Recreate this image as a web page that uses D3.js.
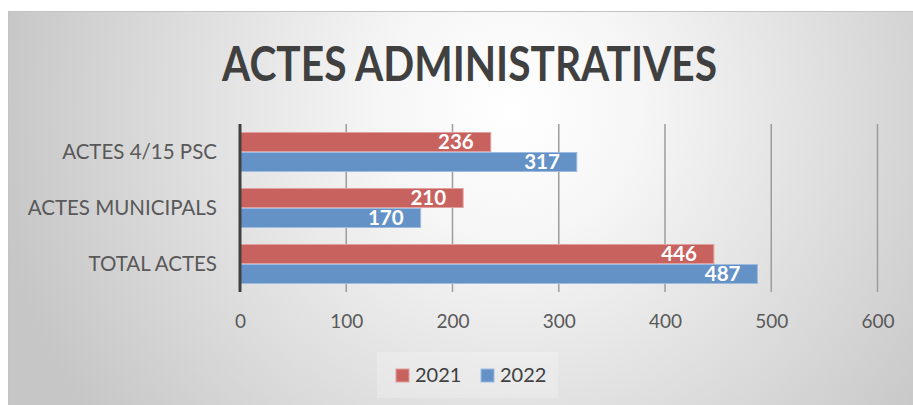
<!DOCTYPE html>
<html>
<head>
<meta charset="utf-8">
<script src="https://cdn.jsdelivr.net/npm/d3@7"></script>
<style>
  html, body { margin: 0; padding: 0; background: #ffffff; }
  svg { display: block; }
</style>
</head>
<body>
<div id="chart"></div>
<script>
const title = "ACTES ADMINISTRATIVES";
const categories = ["ACTES 4/15 PSC", "ACTES MUNICIPALS", "TOTAL ACTES"];
const seriesNames = ["2021", "2022"];
const values2021 = [236, 210, 446];
const values2022 = [317, 170, 487];
const xTicks = [0, 100, 200, 300, 400, 500, 600];
const seriesColors = ["#c8625f", "#6592c6"];
const seriesStroke = ["#e0a09e", "#9dbbe0"];

const W = 913, H = 405;
const svg = d3.select("#chart").append("svg").attr("width", W).attr("height", H);

const defs = svg.append("defs");
const grad = defs.append("radialGradient").attr("id", "bg")
  .attr("gradientUnits", "userSpaceOnUse")
  .attr("cx", 510).attr("cy", 110).attr("r", 520);
grad.append("stop").attr("offset", "0%").attr("stop-color", "#ffffff");
grad.append("stop").attr("offset", "25%").attr("stop-color", "#f6f6f6");
grad.append("stop").attr("offset", "100%").attr("stop-color", "#c6c6c6");

// chart frame
svg.append("rect").attr("x", 8.5).attr("y", 11.5).attr("width", W - 8).attr("height", H - 11)
  .attr("fill", "url(#bg)").attr("stroke", "#c4c4c4").attr("stroke-width", 1);

// title
svg.append("text").attr("x", 469.5).attr("y", 81)
  .attr("text-anchor", "middle")
  .attr("font-family", "Lato, sans-serif").attr("font-weight", 700)
  .attr("font-size", 47.5).attr("fill", "#404040")
  .attr("textLength", 495).attr("lengthAdjust", "spacingAndGlyphs")
  .text(title);

const plotTop = 124, plotBottom = 292;
const x = d3.scaleLinear().domain([0, 600]).range([240, 877.5]);
const y = d3.scaleBand().domain(categories).range([plotTop, plotBottom]).paddingInner(0.2857).paddingOuter(0.1428);
const ySub = d3.scaleBand().domain(seriesNames).range([0, y.bandwidth()]);

// gridlines
const grid = svg.append("g");
grid.selectAll("line").data(xTicks.slice(1)).join("line")
  .attr("x1", d => x(d)).attr("x2", d => x(d))
  .attr("y1", plotTop).attr("y2", plotBottom)
  .attr("stroke", "#9c9c9c").attr("stroke-width", 1.5);

// bars
const data = [];
categories.forEach((c, i) => {
  data.push({cat: c, s: "2021", v: values2021[i], k: 0});
  data.push({cat: c, s: "2022", v: values2022[i], k: 1});
});

svg.append("g").selectAll("rect").data(data).join("rect")
  .attr("x", x(0))
  .attr("y", d => y(d.cat) + ySub(d.s) + 0.5)
  .attr("width", d => x(d.v) - x(0))
  .attr("height", ySub.bandwidth() - 1)
  .attr("fill", d => seriesColors[d.k])
  .attr("stroke", d => seriesStroke[d.k]).attr("stroke-width", 1);

// data labels
svg.append("g").selectAll("text").data(data).join("text")
  .attr("x", d => x(d.v) - 17)
  .attr("y", d => y(d.cat) + ySub(d.s) + ySub.bandwidth() / 2)
  .attr("dy", "0.36em")
  .attr("text-anchor", "end")
  .attr("font-family", "Lato, sans-serif").attr("font-weight", 700)
  .attr("font-size", 20.5).attr("fill", "#ffffff")
  .text(d => d.v);

// y axis line
svg.append("line").attr("x1", x(0)).attr("x2", x(0)).attr("y1", plotTop).attr("y2", plotBottom)
  .attr("stroke", "#404040").attr("stroke-width", 3);

// category labels
svg.append("g").selectAll("text").data(categories).join("text")
  .attr("x", 217)
  .attr("y", d => y(d) + y.bandwidth() / 2)
  .attr("dy", "0.36em")
  .attr("text-anchor", "end")
  .attr("font-family", "Lato, sans-serif").attr("font-size", 20.5).attr("fill", "#595959")
  .text(d => d);

// x tick labels
const xAxis = d3.axisBottom(x).tickValues(xTicks).tickSize(0).tickPadding(0);
const gx = svg.append("g").attr("transform", `translate(0, ${plotBottom})`).call(xAxis);
gx.select(".domain").remove();
gx.selectAll("text")
  .attr("y", 36).attr("dy", 0)
  .attr("font-family", "Lato, sans-serif").attr("font-size", 19).attr("fill", "#595959");

// legend
const lg = svg.append("g");
lg.append("rect").attr("x", 377).attr("y", 352).attr("width", 181).attr("height", 46)
  .attr("fill", "#ffffff").attr("fill-opacity", 0.22);
const legendX = [396, 481];
seriesNames.forEach((s, i) => {
  lg.append("rect").attr("x", legendX[i]).attr("y", 369).attr("width", 13).attr("height", 13)
    .attr("fill", seriesColors[i]).attr("stroke", seriesStroke[i]).attr("stroke-width", 1);
  lg.append("text").attr("x", legendX[i] + 19).attr("y", 382)
    .attr("font-family", "Lato, sans-serif").attr("font-size", 20).attr("fill", "#404040")
    .text(s);
});
</script>
</body>
</html>
